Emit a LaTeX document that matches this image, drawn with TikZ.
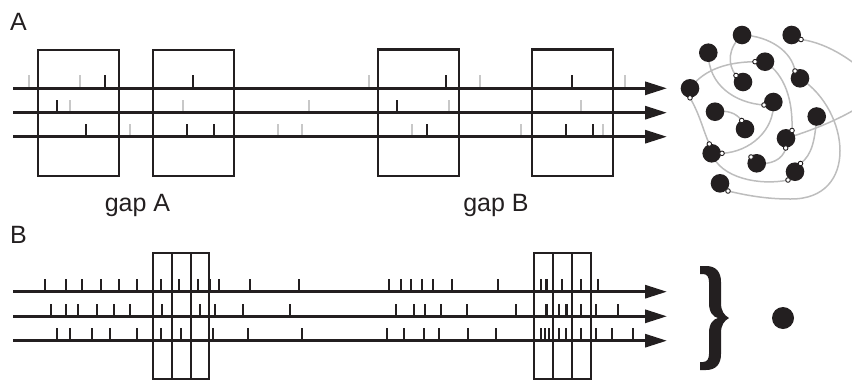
\documentclass[tikz,border=0pt]{standalone}
\usepackage{fontspec}
\setmainfont{Liberation Sans}
\usetikzlibrary{arrows.meta}
\definecolor{ink}{HTML}{231F20}
\definecolor{faint}{HTML}{C8C8C8}
\definecolor{wire}{HTML}{BDBDBD}
\begin{document}
\begin{tikzpicture}[x=1pt,y=-1pt,
  train/.style={draw=ink, line width=3pt, -{Triangle[length=22pt,width=13pt]}},
  win/.style={draw=ink, line width=2.5pt},
  winb/.style={draw=ink, line width=2.3pt},
  spk/.style={draw=ink, line width=2.6pt},
  spkg/.style={draw=faint, line width=2.6pt},
  lbl/.style={font=\fontsize{25}{30}\selectfont, text=ink, inner sep=0pt},
  axon/.style={draw=wire, line width=1.5pt},
  soma/.style={fill=ink},
  syn/.style={fill=white, draw=ink, line width=0.9pt},
]
\useasboundingbox (0,0) rectangle (852,381);

% ---------------- panel A ----------------
\node[lbl, anchor=base west] (labA) at (10,30) {A};

% spikes on the three trains (black = in window, grey = others)
\foreach \x in {105,193,446,572} \draw[spk] (\x,88.3) -- ++(0,-13);
\foreach \x in {29,80,369,480,625} \draw[spkg] (\x,88.3) -- ++(0,-13);
\foreach \x in {57,397} \draw[spk] (\x,112.7) -- ++(0,-13);
\foreach \x in {70,183,309,449,581} \draw[spkg] (\x,112.7) -- ++(0,-13);
\foreach \x in {86,187,214,427,566,593} \draw[spk] (\x,136.7) -- ++(0,-13);
\foreach \x in {130,278,302,412,521,603} \draw[spkg] (\x,136.7) -- ++(0,-13);

% spike trains
\coordinate (a1s) at (13,88.3);  \coordinate (a1e) at (667,88.3);
\coordinate (a2s) at (13,112.7); \coordinate (a2e) at (667,112.7);
\coordinate (a3s) at (13,136.7); \coordinate (a3e) at (667,136.7);
\draw[train] (a1s) -- (a1e);
\draw[train] (a2s) -- (a2e);
\draw[train] (a3s) -- (a3e);

% analysis windows
\draw[win] (38,50) rectangle (119,176);
\draw[win] (153,50) rectangle (234,176);
\draw[win] (378,49.5) rectangle (459,176);
\draw[win] (532,49.5) rectangle (613,176);

\node[lbl, anchor=base] (gapA) at (137.5,211) {gap A};
\node[lbl, anchor=base] (gapB) at (496,211) {gap B};

% ---------------- network ----------------
\coordinate (n1) at (742,35);
\coordinate (n2) at (791.7,35);
\coordinate (n3) at (708.3,52.7);
\coordinate (n4) at (765,61.7);
\coordinate (n5) at (743,82);
\coordinate (n6) at (800,78.3);
\coordinate (n7) at (690,88.3);
\coordinate (n8) at (773.3,102);
\coordinate (n9) at (715,111.7);
\coordinate (n10) at (745,129);
\coordinate (n11) at (816.7,116.5);
\coordinate (n12) at (786,138.3);
\coordinate (n13) at (711.7,153.3);
\coordinate (n14) at (756.7,163.3);
\coordinate (n15) at (795,171.7);
\coordinate (n16) at (720,183.3);

\coordinate (d2) at (801,39.5);
\coordinate (d4) at (755,61.7);
\coordinate (d5) at (736,75.5);
\coordinate (d6) at (795,71);
\coordinate (d7) at (690,97.8);
\coordinate (d8) at (764,105);
\coordinate (d10) at (741.7,120.5);
\coordinate (d12a) at (792,130.5);
\coordinate (d12b) at (785.7,148);
\coordinate (d13a) at (709.3,144);
\coordinate (d13b) at (722,153.3);
\coordinate (d14) at (751,157);
\coordinate (d15a) at (800.5,163.5);
\coordinate (d15b) at (788,180);
\coordinate (d16) at (728,191);

\begin{scope}
\clip (0,0) rectangle (852,381);
\draw[axon] (n1) .. controls (728,48) and (727,64) .. (d5);
\draw[axon] (n1) .. controls (770,36) and (792,52) .. (d6);
\draw[axon] (n3) .. controls (708,85) and (735,103) .. (d8);
\draw[axon] (n7) .. controls (705,68) and (730,62) .. (d4);
\draw[axon] (d7) .. controls (700,115) and (703,130) .. (d13a);
\draw[axon] (n9) .. controls (728,110) and (736,113) .. (d10);
\draw[axon] (n13) .. controls (720,178) and (760,186) .. (d15b);
\draw[axon] (n8) .. controls (775,130) and (750,152) .. (d13b);
\draw[axon] (n11) .. controls (815,140) and (812,155) .. (d15a);
\draw[axon] (n14) .. controls (770,165) and (783,160) .. (d12b);
\draw[axon] (n4) .. controls (785,75) and (793,100) .. (d12a);
\draw[axon] (n6) .. controls (850,110) and (860,200) .. (790,199)
                 .. controls (765,199) and (745,195) .. (d16);
\draw[axon] (n12) .. controls (830,125) and (870,105) .. (880,88)
                  .. controls (858,62) and (828,43) .. (d2);
\end{scope}

\foreach \n in {n1,n2,n3,n4,n5,n6,n7,n8,n9,n10,n11,n12,n13,n14,n15,n16}
  \fill[soma] (\n) circle (9.3);
\foreach \d in {d2,d4,d5,d6,d7,d8,d10,d12a,d12b,d13a,d13b,d14,d15a,d15b,d16}
  \draw[syn] (\d) circle (2.3);

% ---------------- panel B ----------------
\node[lbl, anchor=base west] (labB) at (10,243) {B};

\foreach \x in {45,66,82,101,119,137,161,179,198,210,219,250,299,
                389,401,411,422,433,452,498,541,546.7,562,581,598}
  \draw[spk] (\x,291.7) -- ++(0,-12.5);
\foreach \x in {51,66,78,97,114,130,162,200,215,243,290,
                396,414,425,441,467,516,546.7,559,566.7,581,596,618}
  \draw[spk] (\x,316.3) -- ++(0,-12.5);
\foreach \x in {57,70,92,110,137,161,181,213,248,302,
                387,404,424,439,468,496,541,545,549,559,566,581,596,612,633}
  \draw[spk] (\x,340.7) -- ++(0,-12.5);

\coordinate (b1s) at (13,291.7); \coordinate (b1e) at (667,291.7);
\coordinate (b2s) at (13,316.3); \coordinate (b2e) at (667,316.3);
\coordinate (b3s) at (13,340.7); \coordinate (b3e) at (667,340.7);
\draw[train] (b1s) -- (b1e);
\draw[train] (b2s) -- (b2e);
\draw[train] (b3s) -- (b3e);

% narrow windows
\draw[winb] (153,253.3) rectangle (172,379.3);
\draw[winb] (172,253.3) rectangle (191,379.3);
\draw[winb] (191,253.3) rectangle (209,379.3);
\draw[winb] (534,253.3) rectangle (553,379.3);
\draw[winb] (553,253.3) rectangle (572,379.3);
\draw[winb] (572,253.3) rectangle (591,379.3);

% brace and pooled unit
\fill[ink] (700,266) -- (706,266) .. controls (716,266) and (721,272) .. (721,282)
  -- (721,303) .. controls (721,311) and (724,315) .. (729,318)
  .. controls (724,321) and (721,325) .. (721,333)
  -- (721,354) .. controls (721,364) and (716,370) .. (706,370)
  -- (700,370) -- (700,362) -- (703,362) .. controls (707,362) and (709,359) .. (709,354)
  -- (709,333) .. controls (709,324) and (713,319) .. (718,318)
  .. controls (713,317) and (709,312) .. (709,303)
  -- (709,282) .. controls (709,277) and (707,274) .. (703,274)
  -- (700,274) -- cycle;
\coordinate (pool) at (783,318);
\fill[ink] (pool) circle (11);
\end{tikzpicture}
\end{document}
